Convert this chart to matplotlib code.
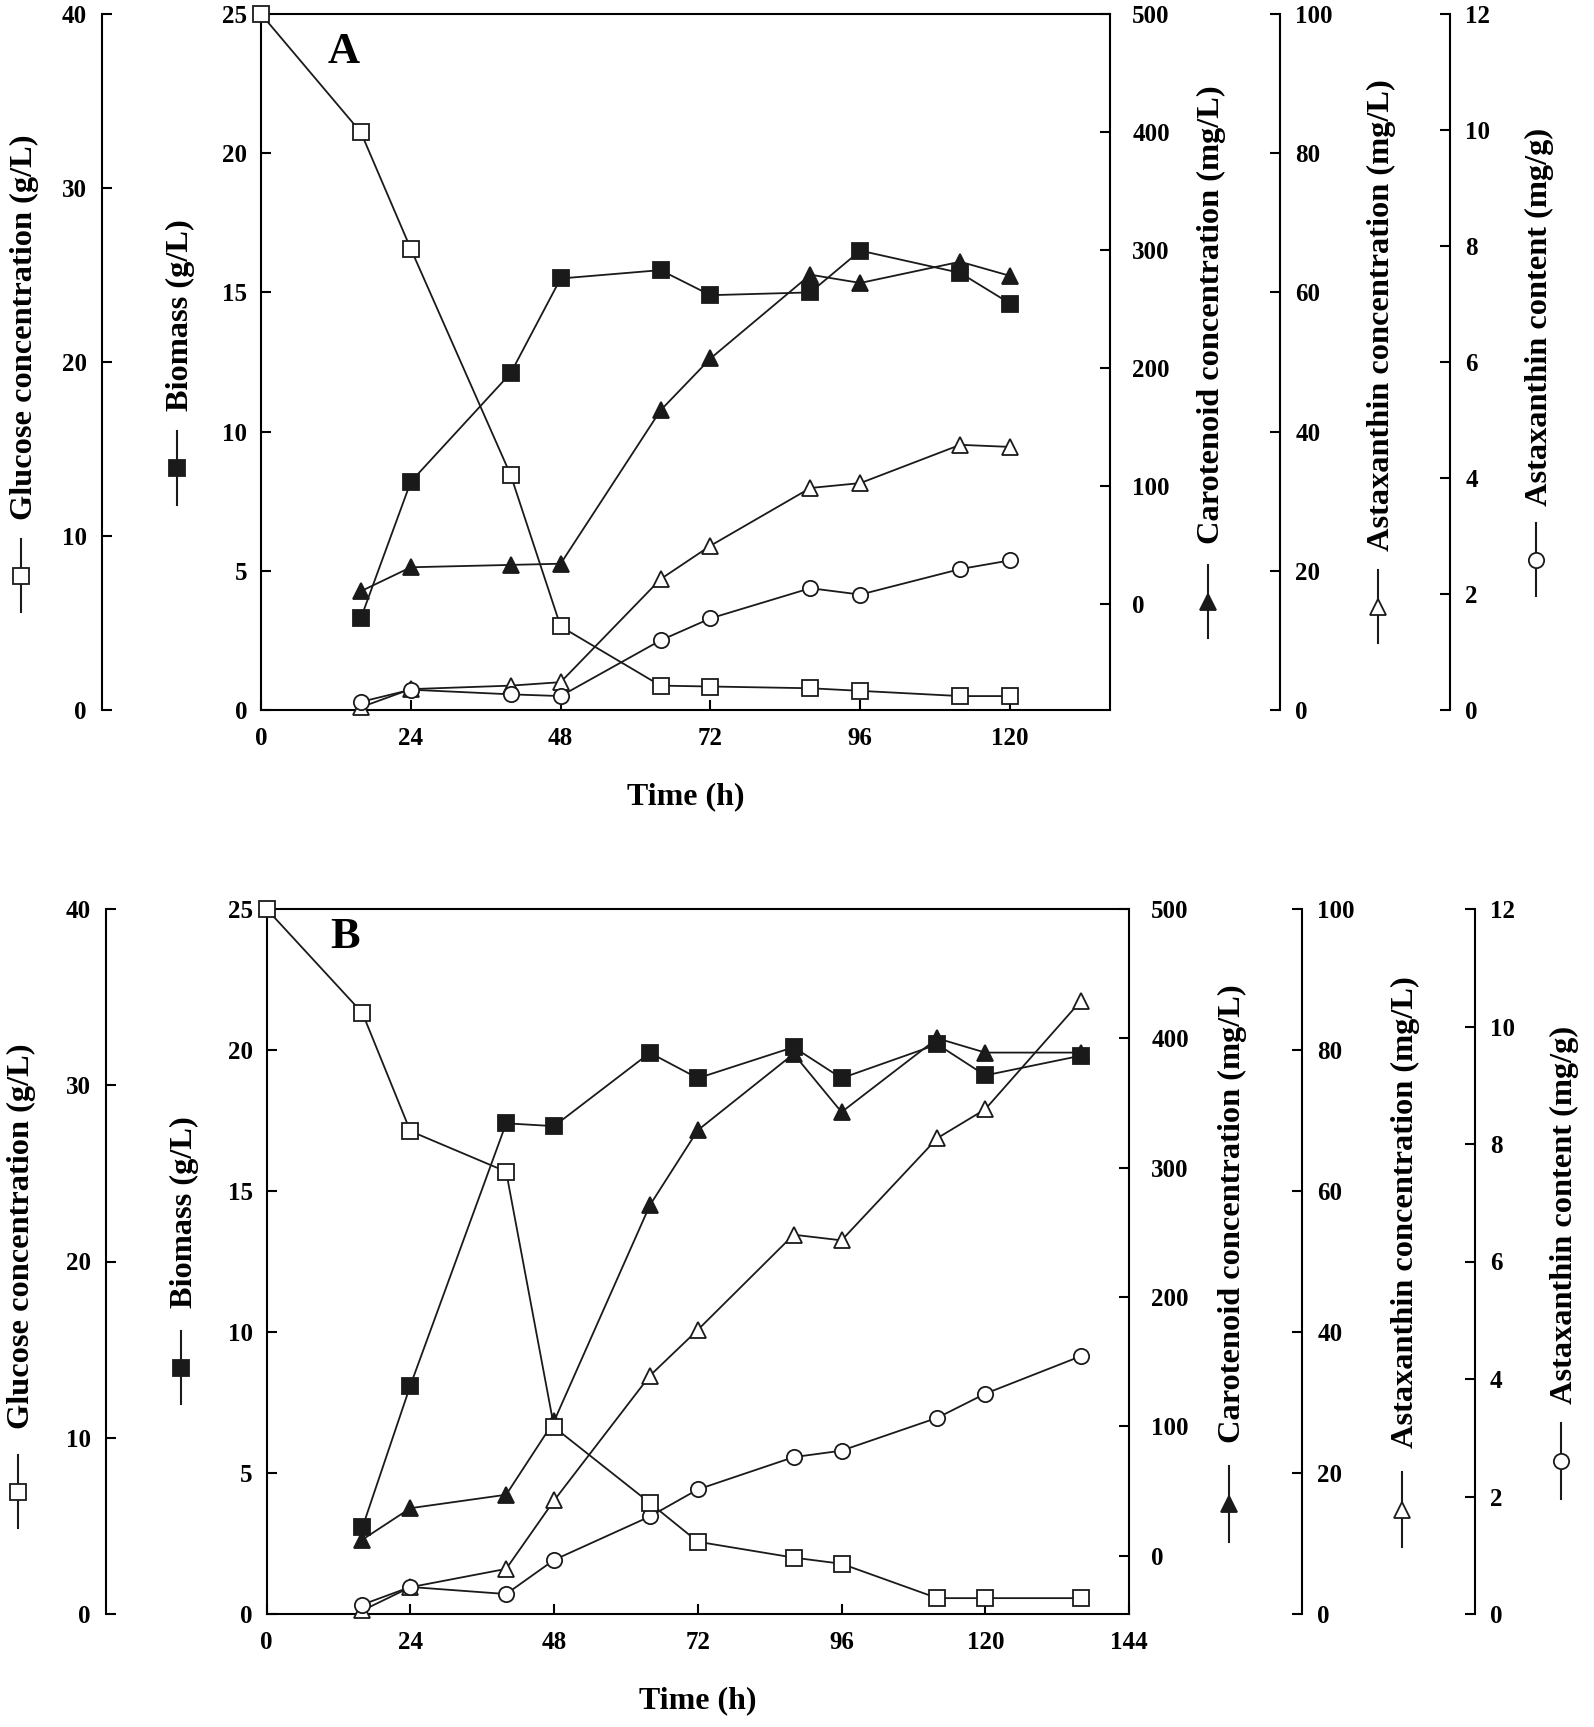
import matplotlib.pyplot as plt
from matplotlib.lines import Line2D

plt.rcParams['font.family'] = ['Liberation Serif', 'DejaVu Serif']
plt.rcParams['font.weight'] = 'bold'

# ---- data, panel A ----
time_a = [0, 16, 24, 40, 48, 64, 72, 88, 96, 112, 120]
glucose_a = [40, 33.2, 26.5, 13.5, 4.8, 1.4, 1.35, 1.25, 1.1, 0.8, 0.8]
biomass_a = [3.3, 8.2, 12.1, 15.5, 15.8, 14.9, 15.0, 16.5, 15.7, 14.6]
carotenoid_a = [10.7, 31, 33, 34, 164, 208, 279, 272, 290, 278]
astax_conc_a = [0.4, 3.0, 3.5, 4.0, 18.8, 23.6, 31.9, 32.6, 38.1, 37.8]
astax_content_a = [0.14, 0.35, 0.27, 0.24, 1.2, 1.58, 2.1, 1.99, 2.43, 2.58]

# ---- data, panel B ----
time_b = [0, 16, 24, 40, 48, 64, 72, 88, 96, 112, 120, 136]
glucose_b = [40, 34.1, 27.4, 25.1, 10.6, 6.3, 4.1, 3.2, 2.85, 0.9, 0.9, 0.9]
biomass_b = [3.07, 8.1, 17.4, 17.3, 19.9, 19.0, 20.1, 19.0, 20.2, 19.1, 19.8]
carotenoid_b = [12.5, 36.8, 47.2, 104, 271, 329, 388, 343, 400, 389, 389]
astax_conc_b = [0.5, 3.8, 6.4, 16.1, 33.8, 40.3, 53.8, 53.0, 67.5, 71.6, 87.0]
astax_content_b = [0.16, 0.46, 0.34, 0.92, 1.66, 2.12, 2.67, 2.78, 3.34, 3.75, 4.39]

x_ticks_a = [0, 24, 48, 72, 96, 120]
x_ticks_b = [0, 24, 48, 72, 96, 120, 144]

W, H = 1594, 1727
LC = '#1a1a1a'
fig = plt.figure(figsize=(W / 100, H / 100), dpi=100)


def fx(px):
    return px / W


def fy(py):
    return 1 - py / H


def axis_label(x, t0, t1, s0, s1, text, marker, fill):
    fig.text(fx(x + 3), fy((t0 + t1) / 2), text, rotation=90, ha='center',
             va='center', fontsize=23.3, fontweight='bold')
    fig.add_artist(Line2D([fx(x), fx(x)], [fy(s0), fy(s1)], color=LC, lw=1.5))
    fig.add_artist(Line2D([fx(x)], [fy((s0 + s1) / 2)], marker=marker, ms=11,
                          mfc=fill, mec=LC, mew=1.3, ls='none'))


def style_y(axis, pad):
    axis.tick_params(axis='y', direction='in', length=7, width=1.5, pad=pad,
                     labelsize=18)


def panel(box, t, glc, bio, car, asx, cnt, xmax, xticks, car_lo, pos):
    left, top, right, bottom = box
    ax = fig.add_axes([fx(left), fy(bottom), fx(right - left), (bottom - top) / H])
    for s in ax.spines.values():
        s.set_linewidth(1.5)
    ax.set_xlim(0, xmax)
    ax.set_ylim(0, 25)
    ax.set_xticks(xticks)
    ax.set_yticks(range(0, 26, 5))
    ax.tick_params(axis='x', direction='in', length=7, width=1.5, pad=12,
                   labelsize=18, top=False)
    style_y(ax, 10)
    ax.tick_params(axis='y', right=False)

    def twin(side, where, lo, hi, ticks, pad):
        tw = ax.twinx()
        for s in tw.spines.values():
            s.set_visible(False)
        tw.spines[side].set_visible(True)
        tw.spines[side].set_linewidth(1.5)
        tw.spines[side].set_position(('axes', where))
        if side == 'left':
            tw.yaxis.tick_left()
        tw.set_ylim(lo, hi)
        tw.set_yticks(ticks)
        style_y(tw, pad)
        return tw

    car_ax = twin('right', 1.0, car_lo, 500, range(0, 501, 100), 16)
    car_ax.spines['right'].set_visible(False)
    asx_ax = twin('right', pos[1], 0, 100, range(0, 101, 20), 11)
    cnt_ax = twin('right', pos[2], 0, 12, range(0, 13, 2), 11)
    glc_ax = twin('left', pos[0], 0, 40, range(0, 41, 10), 11)

    kw = dict(color=LC, lw=1.3, ms=11, mew=1.3, mec=LC, clip_on=False)
    ax.plot(t[1:], bio, marker='s', mfc=LC, **kw)
    car_ax.plot(t[1:], car, marker='^', mfc=LC, **kw)
    asx_ax.plot(t[1:], asx, marker='^', mfc='white', **kw)
    cnt_ax.plot(t[1:], cnt, marker='o', mfc='white', **kw)
    glc_ax.plot(t, glc, marker='s', mfc='white', **kw)
    ax.text(0.5, -87 / (bottom - top), 'Time (h)', transform=ax.transAxes,
            ha='center', va='center', fontsize=23, fontweight='bold')
    return ax


# panel A
panel((261, 14, 1110, 710), time_a, glucose_a, biomass_a, carotenoid_a,
      astax_conc_a, astax_content_a, 136, x_ticks_a, -90,
      (-0.1873, 1.2002, 1.4005))
fig.text(fx(344), fy(52), 'A', ha='center', va='center', fontsize=32, fontweight='bold')
axis_label(21, 136, 518, 539, 612, 'Glucose concentration (g/L)', 's', 'white')
axis_label(177, 220, 410, 431, 505, 'Biomass (g/L)', 's', LC)
axis_label(1208, 86, 544, 565, 638, 'Carotenoid concentration (mg/L)', '^', LC)
axis_label(1378, 78, 552, 570, 643, 'Astaxanthin concentration (mg/L)', '^', 'white')
axis_label(1536, 128, 505, 523, 596, 'Astaxanthin content (mg/g)', 'o', 'white')

# panel B
panel((266.6, 909, 1129, 1614), time_b, glucose_b, biomass_b, carotenoid_b,
      astax_conc_b, astax_content_b, 144, x_ticks_b, -45,
      (-0.1862, 1.2006, 1.401))
fig.text(fx(345), fy(937), 'B', ha='center', va='center', fontsize=32, fontweight='bold')
axis_label(18, 1042, 1431, 1455, 1528, 'Glucose concentration (g/L)', 's', 'white')
axis_label(181, 1115, 1309, 1331, 1404, 'Biomass (g/L)', 's', LC)
axis_label(1229, 980, 1447, 1466, 1542, 'Carotenoid concentration (mg/L)', '^', LC)
axis_label(1402, 972, 1453, 1472, 1547, 'Astaxanthin concentration (mg/L)', '^', 'white')
axis_label(1561, 1023, 1407, 1423, 1499, 'Astaxanthin content (mg/g)', 'o', 'white')

fig.savefig('out.png', dpi=100)
